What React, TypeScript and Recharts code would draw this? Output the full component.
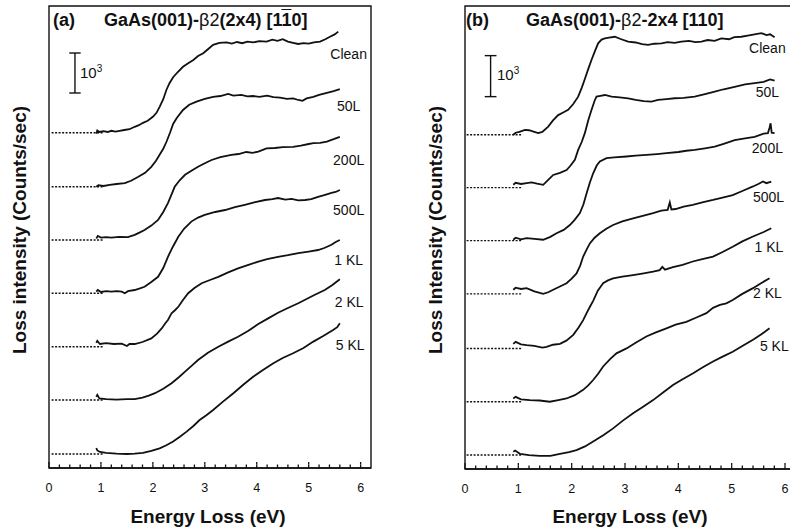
import { LineChart, Line, XAxis, YAxis, ReferenceArea, ReferenceLine, ReferenceDot } from 'recharts';

type Pt = [number, number];

const FONT = '"Liberation Sans", Arial, Helvetica, sans-serif';
const INK = '#111';

// exposure labels, top to bottom
const EXPOSURES = ['Clean', '50L', '200L', '500L', '1 KL', '2 KL', '5 KL'];

// tick positions on the energy axis (eV)
const MAJOR_TICKS = [0, 1, 2, 3, 4, 5, 6];
const MINOR_TICKS_A = [0.2, 0.4, 0.6, 0.8, 1.2, 1.4, 1.6, 1.8, 2.2, 2.4, 2.6, 2.8, 3.2, 3.4, 3.6, 3.8, 4.2, 4.4, 4.6, 4.8, 5.2, 5.4, 5.6, 5.8];
const MINOR_TICKS_B = [0.2, 0.4, 0.6, 0.8, 1.2, 1.4, 1.6, 1.8, 2.2, 2.4, 2.6, 2.8, 3.2, 3.4, 3.6, 3.8, 4.2, 4.4, 4.6, 4.8, 5.2, 5.4, 5.6, 5.8, 6.2];

// panel (a) [1-10] spectra, intensity in 10^3 counts/sec incl. vertical offset
const CLEAN_A: Pt[] = [[0.91,8.36],[0.93,8.44],[0.97,8.40],[1.05,8.42],[1.13,8.40],[1.2,8.43],[1.28,8.41],[1.36,8.43],[1.45,8.45],[1.55,8.47],[1.65,8.53],[1.73,8.57],[1.81,8.63],[1.9,8.68],[2.0,8.78],[2.07,8.88],[2.13,9.03],[2.2,9.22],[2.26,9.45],[2.32,9.62],[2.39,9.77],[2.48,9.9],[2.58,10.03],[2.68,10.12],[2.78,10.2],[2.87,10.3],[2.97,10.37],[3.06,10.47],[3.16,10.58],[3.28,10.63],[3.42,10.64],[3.52,10.61],[3.62,10.65],[3.72,10.62],[3.82,10.66],[3.93,10.64],[4.05,10.67],[4.19,10.66],[4.3,10.71],[4.4,10.68],[4.5,10.72],[4.6,10.66],[4.7,10.63],[4.8,10.6],[4.9,10.62],[5.0,10.61],[5.1,10.64],[5.22,10.66],[5.32,10.72],[5.41,10.78],[5.5,10.84],[5.57,10.91]];
const L50_A: Pt[] = [[0.91,7.03],[0.95,7.07],[1.05,7.05],[1.17,7.08],[1.3,7.1],[1.46,7.12],[1.58,7.18],[1.72,7.28],[1.85,7.38],[1.97,7.53],[2.06,7.68],[2.13,7.83],[2.2,7.98],[2.26,8.15],[2.33,8.38],[2.39,8.6],[2.46,8.75],[2.58,8.95],[2.7,9.08],[2.84,9.16],[3.0,9.23],[3.16,9.28],[3.3,9.3],[3.45,9.35],[3.55,9.31],[3.7,9.33],[3.82,9.29],[3.93,9.3],[4.05,9.28],[4.2,9.31],[4.32,9.27],[4.45,9.26],[4.58,9.23],[4.7,9.24],[4.8,9.2],[4.88,9.18],[4.96,9.24],[5.09,9.28],[5.2,9.33],[5.35,9.38],[5.48,9.42],[5.6,9.47]];
const L200_A: Pt[] = [[0.91,5.74],[0.94,5.8],[1.0,5.76],[1.1,5.77],[1.2,5.76],[1.35,5.78],[1.52,5.77],[1.65,5.83],[1.75,5.89],[1.84,5.95],[1.97,6.06],[2.1,6.2],[2.2,6.4],[2.29,6.62],[2.36,6.84],[2.42,7.03],[2.52,7.2],[2.62,7.33],[2.75,7.44],[2.87,7.53],[3.0,7.62],[3.13,7.7],[3.3,7.77],[3.51,7.83],[3.65,7.85],[3.8,7.9],[3.92,7.88],[4.03,7.91],[4.19,7.99],[4.35,8.0],[4.5,8.02],[4.7,8.03],[4.85,8.06],[5.0,8.1],[5.09,8.12],[5.22,8.13],[5.35,8.16],[5.48,8.22],[5.6,8.28]];
const L500_A: Pt[] = [[0.91,4.41],[0.94,4.45],[1.0,4.4],[1.1,4.42],[1.2,4.41],[1.3,4.42],[1.4,4.41],[1.46,4.37],[1.52,4.42],[1.65,4.45],[1.75,4.49],[1.84,4.53],[1.97,4.65],[2.1,4.78],[2.2,5.0],[2.29,5.28],[2.38,5.52],[2.49,5.78],[2.6,5.98],[2.74,6.16],[2.87,6.26],[3.0,6.33],[3.2,6.4],[3.39,6.45],[3.58,6.52],[3.77,6.58],[3.95,6.64],[4.16,6.7],[4.3,6.72],[4.41,6.75],[4.55,6.71],[4.67,6.73],[4.8,6.69],[4.93,6.7],[5.05,6.72],[5.18,6.78],[5.3,6.82],[5.44,6.88],[5.52,6.9],[5.6,6.95]];
const KL1_A: Pt[] = [[0.91,3.13],[0.93,3.18],[0.98,3.1],[1.1,3.12],[1.25,3.1],[1.4,3.11],[1.5,3.05],[1.55,3.1],[1.65,3.1],[1.8,3.15],[1.97,3.24],[2.08,3.36],[2.17,3.49],[2.24,3.62],[2.29,3.7],[2.36,3.87],[2.43,3.95],[2.49,4.03],[2.58,4.2],[2.68,4.37],[2.8,4.5],[2.94,4.62],[3.1,4.7],[3.26,4.78],[3.45,4.89],[3.64,4.99],[3.84,5.08],[4.03,5.16],[4.2,5.22],[4.41,5.28],[4.6,5.32],[4.8,5.37],[5.0,5.41],[5.18,5.45],[5.3,5.5],[5.44,5.58],[5.52,5.65],[5.6,5.7]];
const KL2_A: Pt[] = [[0.91,1.78],[0.93,1.83],[0.97,1.74],[1.1,1.72],[1.3,1.71],[1.5,1.72],[1.65,1.72],[1.8,1.76],[1.92,1.81],[2.04,1.87],[2.2,1.98],[2.36,2.12],[2.5,2.27],[2.62,2.41],[2.75,2.56],[2.87,2.7],[3.06,2.88],[3.26,3.03],[3.45,3.16],[3.64,3.28],[3.84,3.43],[4.03,3.6],[4.22,3.74],[4.41,3.88],[4.6,4.0],[4.8,4.12],[4.95,4.22],[5.1,4.32],[5.31,4.45],[5.45,4.57],[5.6,4.72]];
const KL5_A: Pt[] = [[0.91,0.5],[0.93,0.44],[0.98,0.4],[1.1,0.38],[1.3,0.36],[1.5,0.35],[1.65,0.36],[1.81,0.38],[1.97,0.43],[2.13,0.49],[2.26,0.57],[2.39,0.66],[2.52,0.78],[2.65,0.91],[2.78,1.05],[2.9,1.2],[3.03,1.32],[3.16,1.45],[3.35,1.66],[3.55,1.87],[3.74,2.08],[3.93,2.28],[4.12,2.45],[4.32,2.62],[4.5,2.75],[4.7,2.87],[4.9,3.0],[5.09,3.16],[5.28,3.3],[5.47,3.45],[5.55,3.52],[5.6,3.62]];

// panel (b) [110] spectra
const CLEAN_B: Pt[] = [[0.905,8.15],[0.95,8.2],[1.02,8.22],[1.124,8.27],[1.2,8.26],[1.3,8.22],[1.373,8.19],[1.45,8.22],[1.56,8.35],[1.65,8.5],[1.747,8.63],[1.85,8.7],[1.934,8.76],[2.03,8.9],[2.122,9.08],[2.19,9.3],[2.247,9.51],[2.31,9.75],[2.373,9.98],[2.44,10.2],[2.496,10.38],[2.56,10.47],[2.622,10.5],[2.7,10.52],[2.809,10.54],[2.93,10.48],[3.058,10.42],[3.2,10.4],[3.32,10.36],[3.433,10.34],[3.55,10.37],[3.683,10.38],[3.8,10.41],[3.93,10.39],[4.058,10.42],[4.2,10.44],[4.32,10.41],[4.433,10.42],[4.55,10.46],[4.68,10.44],[4.807,10.5],[4.95,10.48],[5.05,10.53],[5.18,10.54],[5.3,10.57],[5.43,10.6],[5.556,10.63],[5.65,10.58],[5.72,10.6],[5.805,10.53]];
const L50_B: Pt[] = [[0.905,6.93],[0.95,6.98],[1.05,6.95],[1.155,6.97],[1.25,6.99],[1.35,6.96],[1.466,6.93],[1.56,7.05],[1.654,7.17],[1.78,7.22],[1.904,7.29],[1.98,7.4],[2.06,7.54],[2.122,7.78],[2.19,7.98],[2.247,8.19],[2.31,8.5],[2.373,8.76],[2.43,8.98],[2.466,9.08],[2.54,9.1],[2.622,9.12],[2.75,9.08],[2.9,9.06],[3.058,9.04],[3.2,9.0],[3.35,8.97],[3.496,8.96],[3.62,9.0],[3.78,9.02],[3.933,9.04],[4.1,9.05],[4.307,9.08],[4.5,9.14],[4.682,9.2],[4.85,9.26],[5.056,9.32],[5.25,9.38],[5.431,9.41],[5.6,9.44],[5.72,9.5],[5.805,9.47]];
const L200_B: Pt[] = [[0.905,5.59],[0.95,5.64],[1.05,5.6],[1.155,5.63],[1.3,5.61],[1.466,5.59],[1.6,5.66],[1.716,5.75],[1.85,5.83],[1.966,5.95],[2.06,6.08],[2.154,6.24],[2.22,6.45],[2.279,6.72],[2.34,6.98],[2.403,7.21],[2.47,7.4],[2.528,7.5],[2.653,7.58],[2.8,7.6],[3.028,7.62],[3.2,7.64],[3.403,7.66],[3.6,7.68],[3.777,7.7],[4.0,7.73],[4.15,7.76],[4.307,7.78],[4.5,7.82],[4.682,7.86],[4.85,7.93],[5.056,8.02],[5.25,8.06],[5.431,8.1],[5.6,8.18],[5.68,8.19],[5.71,8.32],[5.73,8.43],[5.75,8.2],[5.805,8.19]];
const L500_B: Pt[] = [[0.905,4.37],[0.95,4.42],[1.05,4.39],[1.155,4.41],[1.3,4.33],[1.466,4.27],[1.56,4.31],[1.654,4.37],[1.78,4.45],[1.904,4.53],[2.0,4.64],[2.091,4.77],[2.16,4.96],[2.216,5.18],[2.28,5.35],[2.341,5.5],[2.43,5.64],[2.528,5.75],[2.65,5.86],[2.777,5.95],[2.95,6.04],[3.152,6.11],[3.35,6.18],[3.527,6.24],[3.68,6.3],[3.8,6.32],[3.84,6.5],[3.87,6.33],[3.95,6.34],[4.1,6.4],[4.27,6.44],[4.45,6.5],[4.65,6.56],[4.83,6.62],[5.02,6.68],[5.2,6.78],[5.4,6.89],[5.5,6.95],[5.587,7.01],[5.65,6.97],[5.743,7.01]];
const KL1_B: Pt[] = [[0.905,3.05],[0.95,3.1],[1.05,3.04],[1.155,3.02],[1.3,3.0],[1.45,2.96],[1.53,2.98],[1.65,3.03],[1.78,3.05],[1.9,3.13],[2.03,3.27],[2.13,3.45],[2.216,3.63],[2.28,3.8],[2.34,3.95],[2.403,4.1],[2.49,4.35],[2.59,4.53],[2.68,4.6],[2.777,4.65],[2.95,4.69],[3.152,4.73],[3.35,4.77],[3.527,4.81],[3.65,4.85],[3.7,4.93],[3.75,4.86],[3.9,4.92],[4.08,4.98],[4.27,5.06],[4.45,5.12],[4.65,5.18],[4.83,5.29],[5.02,5.42],[5.2,5.55],[5.4,5.67],[5.6,5.78],[5.743,5.87]];
const KL2_B: Pt[] = [[0.905,1.72],[0.95,1.76],[1.05,1.7],[1.217,1.68],[1.4,1.67],[1.59,1.64],[1.75,1.68],[1.904,1.72],[2.06,1.8],[2.216,1.93],[2.31,2.04],[2.403,2.17],[2.5,2.33],[2.59,2.5],[2.72,2.68],[2.84,2.82],[3.028,2.94],[3.2,3.08],[3.4,3.23],[3.58,3.33],[3.777,3.43],[3.95,3.52],[4.15,3.59],[4.35,3.7],[4.526,3.8],[4.65,3.93],[4.78,4.0],[4.9,4.04],[5.02,4.12],[5.2,4.27],[5.4,4.41],[5.55,4.53],[5.71,4.65]];
const KL5_B: Pt[] = [[0.905,0.42],[0.94,0.45],[1.03,0.37],[1.2,0.34],[1.4,0.32],[1.6,0.32],[1.78,0.37],[1.95,0.41],[2.09,0.46],[2.25,0.55],[2.403,0.67],[2.6,0.83],[2.777,0.99],[2.96,1.18],[3.152,1.36],[3.34,1.52],[3.527,1.68],[3.72,1.87],[3.9,2.05],[4.08,2.19],[4.27,2.33],[4.46,2.48],[4.65,2.62],[4.83,2.74],[5.02,2.86],[5.2,3.0],[5.4,3.15],[5.55,3.28],[5.71,3.43]];

// zero level of each offset spectrum (dotted lines at left)
const BASE_A = [8.38, 7.03, 5.7, 4.37, 3.03, 1.7, 0.35];
const BASE_B = [8.15, 6.86, 5.57, 4.27, 2.94, 1.64, 0.34];

// where the exposure labels sit (eV, intensity)
const LABEL_X_A = [5.77, 5.77, 5.77, 5.77, 5.77, 5.78, 5.8];
const LABEL_Y_A = [10.35, 9.05, 7.7, 6.45, 5.2, 4.15, 3.08];
const LABEL_X_B = [5.67, 5.67, 5.67, 5.69, 5.7, 5.67, 5.8];
const LABEL_Y_B = [10.27, 9.2, 7.83, 6.63, 5.41, 4.29, 3.0];

const toRows = (pts: Pt[]) => pts.map(([x, y]) => ({ x, y }));

// tick line comes from recharts (inward, negative size); here we only add the
// longer stub and the number at whole eV
const EnergyTick = ({ x, y, payload }: any) => {
  const v = payload.value as number;
  if (Math.abs(v - Math.round(v)) > 1e-6) return <g />;
  return (
    <g>
      <line x1={x} x2={x} y1={y} y2={y - 2.5} stroke={INK} strokeWidth={1.3} />
      <text x={x} y={y + 27} textAnchor="middle" fontSize={12.5} fontFamily={FONT} fill={INK}>
        {Math.round(v)}
      </text>
    </g>
  );
};

interface PanelProps {
  width: number;
  margin: { top: number; right: number; bottom: number; left: number };
  xMax: number;
  yMax: number;
  minorTicks: number[];
  curves: Pt[][];
  bases: number[];
  dotFrom: number;
  dotTo: number;
  labelX: number[];
  labelY: number[];
  bar: { x: number; half: number; y0: number };
}

function Panel({ width, margin, xMax, yMax, minorTicks, curves, bases, dotFrom, dotTo, labelX, labelY, bar }: PanelProps) {
  const ticks = [...MAJOR_TICKS, ...minorTicks].sort((a, b) => a - b);
  return (
    <LineChart width={width} height={531} margin={margin}>
      <XAxis
        type="number"
        dataKey="x"
        domain={[0, xMax]}
        ticks={ticks}
        interval={0}
        tick={<EnergyTick />}
        tickLine={{ stroke: INK, strokeWidth: 1.3 }}
        tickSize={-3.5}
        tickMargin={0}
        height={40}
        axisLine={{ stroke: INK, strokeWidth: 1.5 }}
        allowDataOverflow
      />
      <YAxis type="number" dataKey="y" domain={[0, yMax]} hide width={0} allowDataOverflow />
      <ReferenceArea x1={0} x2={xMax} y1={0} y2={yMax} fill="none" stroke={INK} strokeWidth={1.4} ifOverflow="visible" />

      {bases.map((b, i) => (
        <Line
          key={`base-${i}`}
          data={toRows([[dotFrom, b], [dotTo, b]])}
          dataKey="y"
          stroke={INK}
          strokeWidth={1.4}
          strokeDasharray="2 1.5"
          dot={false}
          isAnimationActive={false}
        />
      ))}

      {curves.map((c, i) => (
        <Line
          key={`curve-${i}`}
          data={toRows(c)}
          dataKey="y"
          type="linear"
          stroke={INK}
          strokeWidth={1.8}
          dot={false}
          isAnimationActive={false}
        />
      ))}

      {EXPOSURES.map((name, i) => (
        <ReferenceDot
          key={name}
          x={labelX[i]}
          y={labelY[i]}
          r={0}
          stroke="none"
          fill="none"
          ifOverflow="visible"
          label={{ value: name, position: 'center', fontSize: 14, fill: INK, fontFamily: FONT }}
        />
      ))}

      {/* 10^3 scale bar */}
      <ReferenceLine segment={[{ x: bar.x, y: bar.y0 }, { x: bar.x, y: bar.y0 + 1 }]} stroke={INK} strokeWidth={1.4} ifOverflow="visible" />
      <ReferenceLine segment={[{ x: bar.x - bar.half, y: bar.y0 }, { x: bar.x + bar.half, y: bar.y0 }]} stroke={INK} strokeWidth={1.4} ifOverflow="visible" />
      <ReferenceLine segment={[{ x: bar.x - bar.half, y: bar.y0 + 1 }, { x: bar.x + bar.half, y: bar.y0 + 1 }]} stroke={INK} strokeWidth={1.4} ifOverflow="visible" />
    </LineChart>
  );
}

const abs = (left: number, top: number, extra: any = {}) => ({ position: 'absolute' as const, left, top, whiteSpace: 'nowrap' as const, lineHeight: 1, ...extra });

export default function App() {
  return (
    <div style={{ position: 'fixed', left: 0, top: 0, width: 790, height: 531, overflow: 'hidden', background: '#fff', fontFamily: FONT, color: INK }}>
      <div style={{ position: 'absolute', left: 0, top: 0 }}>
        <Panel
          width={390}
          margin={{ top: 6, right: 19, bottom: 23, left: 49 }}
          xMax={6.2}
          yMax={11.55}
          minorTicks={MINOR_TICKS_A}
          curves={[CLEAN_A, L50_A, L200_A, L500_A, KL1_A, KL2_A, KL5_A]}
          bases={BASE_A}
          dotFrom={0.05}
          dotTo={1.05}
          labelX={LABEL_X_A}
          labelY={LABEL_Y_A}
          bar={{ x: 0.5, half: 0.11, y0: 9.375 }}
        />
      </div>
      <div style={{ position: 'absolute', left: 395, top: 0 }}>
        <Panel
          width={420}
          margin={{ top: 6, right: 14, bottom: 22, left: 70 }}
          xMax={6.3}
          yMax={11.29}
          minorTicks={MINOR_TICKS_B}
          curves={[CLEAN_B, L50_B, L200_B, L500_B, KL1_B, KL2_B, KL5_B]}
          bases={BASE_B}
          dotFrom={0.03}
          dotTo={1.06}
          labelX={LABEL_X_B}
          labelY={LABEL_Y_B}
          bar={{ x: 0.48, half: 0.11, y0: 9.08 }}
        />
      </div>

      {/* panel titles */}
      <div style={abs(53, 11, { fontSize: 18, fontWeight: 'bold' })}>(a)</div>
      <div style={abs(104, 11, { fontSize: 18, fontWeight: 'bold' })}>
        GaAs(001)-<span style={{ fontWeight: 'normal' }}>β2</span>(2x4) [1<span style={{ textDecoration: 'overline' }}>1</span>0]
      </div>
      <div style={abs(466, 11, { fontSize: 18, fontWeight: 'bold' })}>(b)</div>
      <div style={abs(526, 11, { fontSize: 18, fontWeight: 'bold' })}>
        GaAs(001)-<span style={{ fontWeight: 'normal' }}>β2</span>-2x4 [110]
      </div>

      {/* scale bar captions */}
      <div style={abs(80, 64, { fontSize: 15 })}>10<sup style={{ fontSize: 10 }}>3</sup></div>
      <div style={abs(497, 66, { fontSize: 15 })}>10<sup style={{ fontSize: 10 }}>3</sup></div>

      {/* axis titles */}
      <div style={abs(208, 507, { fontSize: 19, fontWeight: 'bold', transform: 'translateX(-50%)' })}>Energy Loss (eV)</div>
      <div style={abs(630, 507, { fontSize: 19, fontWeight: 'bold', transform: 'translateX(-50%)' })}>Energy Loss (eV)</div>
      <div style={abs(18.5, 230, { fontSize: 19, fontWeight: 'bold', transform: 'translate(-50%, -50%) rotate(-90deg)' })}>
        Loss intensity (Counts/sec)
      </div>
      <div style={abs(435, 230, { fontSize: 19, fontWeight: 'bold', transform: 'translate(-50%, -50%) rotate(-90deg)' })}>
        Loss Intensity (Counts/sec)
      </div>
    </div>
  );
}
